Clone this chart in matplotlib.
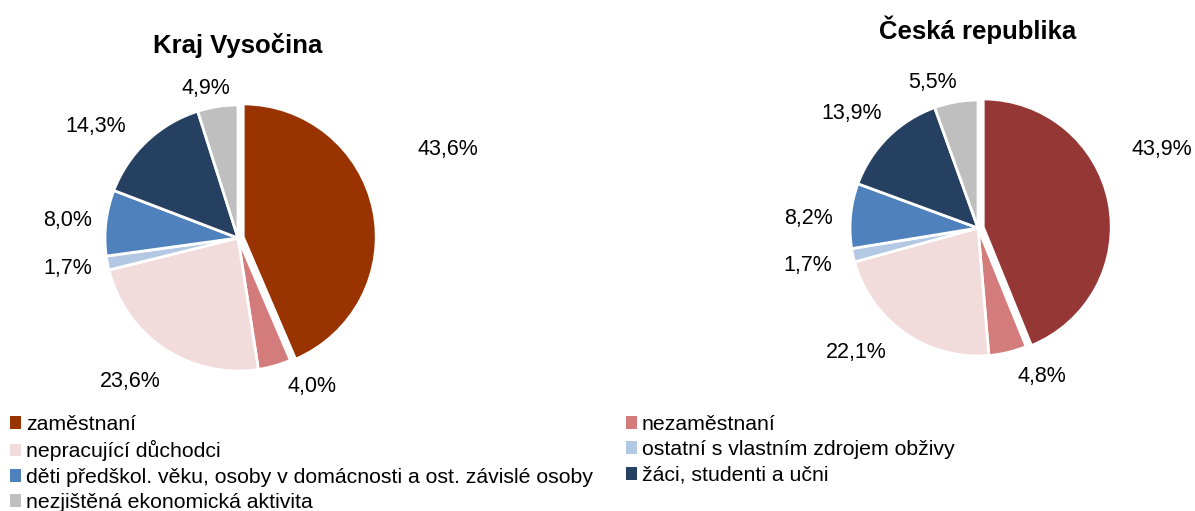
import numpy as np
import matplotlib.pyplot as plt
from matplotlib.patches import Patch

plt.rcParams['font.family'] = ['Liberation Sans', 'DejaVu Sans']

categories = ['zaměstnaní', 'nezaměstnaní', 'nepracující důchodci',
              'ostatní s vlastním zdrojem obživy',
              'děti předškol. věku, osoby v domácnosti a ost. závislé osoby',
              'žáci, studenti a učni', 'nezjištěná ekonomická aktivita']
vysocina = [43.6, 4.0, 23.6, 1.7, 8.0, 14.3, 4.9]
cr = [43.9, 4.8, 22.1, 1.7, 8.2, 13.9, 5.5]

colors_vys = ['#993300', '#D47B7B', '#F2DCDB', '#B3C8E3', '#4F81BD', '#254061', '#BFBFBF']
colors_cr = ['#953735', '#D47B7B', '#F2DCDB', '#B3C8E3', '#4F81BD', '#254061', '#BFBFBF']

# label placement: radial distance and angle tweak (deg) per slice
lab_vys = [(1.71, 11.3), (1.25, 10.6), (1.35, -3.2), (1.30, -0.6), (1.29, 0.8), (1.36, 8.7), (1.15, 3.2)]
lab_cr = [(1.56, 12.0), (1.26, 9.7), (1.36, -9.4), (1.36, 0.0), (1.33, 2.4), (1.33, 3.1), (1.19, 7.3)]

W, H = 1195, 511
fig = plt.figure(figsize=(W / 100, H / 100), dpi=100)


def draw(cx, cy, r, vals, cols, labs, title, ty):
    size = 400
    ax = fig.add_axes([(cx - size / 2) / W, 1 - (cy + size / 2) / H, size / W, size / H])
    rad = r / (size / 3)
    explode = [0.04] + [0] * (len(vals) - 1)
    wedges, _ = ax.pie(vals, colors=cols, startangle=90, counterclock=False,
                       radius=rad, explode=explode,
                       wedgeprops=dict(edgecolor='white', linewidth=2))
    ax.set_xlim(-1.5, 1.5)
    ax.set_ylim(-1.5, 1.5)
    ax.set_aspect('equal')
    ax.axis('off')
    for w, v, (d, da) in zip(wedges, vals, labs):
        ang = np.deg2rad((w.theta1 + w.theta2) / 2 + da)
        ax.text(d * rad * np.cos(ang), d * rad * np.sin(ang),
                f'{v:.1f}%'.replace('.', ','), ha='center', va='center', fontsize=15.5)
    fig.text(cx / W, 1 - ty / H, title, ha='center', va='center',
             fontsize=18.5, fontweight='bold')


draw(238, 238, 133, vysocina, colors_vys, lab_vys, 'Kraj Vysočina', 46)
draw(978, 228, 128, cr, colors_cr, lab_cr, 'Česká republika', 30)

handles = [Patch(facecolor=c, edgecolor='none') for c in colors_vys]
col1 = [0, 2, 4, 6]
col2 = [1, 3, 5]
leg_kw = dict(loc='upper left', frameon=False, fontsize=15.3, handlelength=0.5,
              handleheight=0.55, handletextpad=0.25, labelspacing=0.3,
              borderaxespad=0, borderpad=0)
fig.legend([handles[i] for i in col1], [categories[i] for i in col1],
           bbox_to_anchor=(10 / W, 1 - 415 / H), **leg_kw)
fig.legend([handles[i] for i in col2], [categories[i] for i in col2],
           bbox_to_anchor=(626 / W, 1 - 415 / H), **leg_kw)

fig.savefig('out.png', dpi=100)
